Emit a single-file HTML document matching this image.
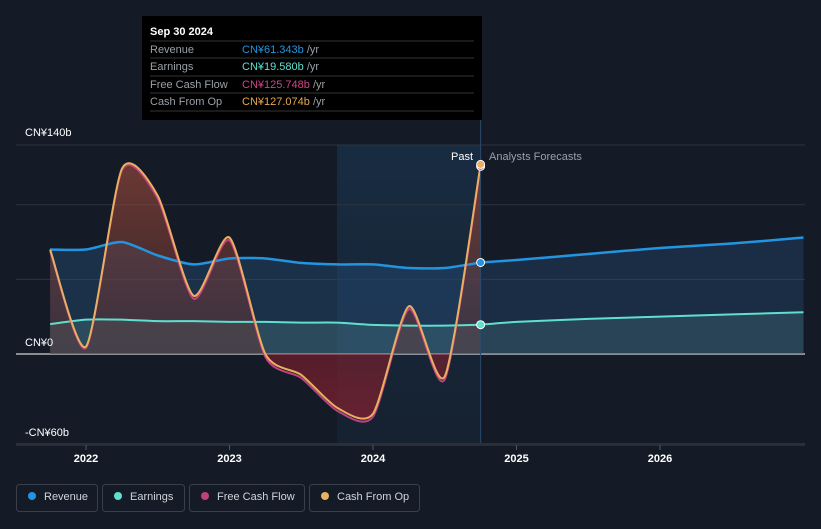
<!DOCTYPE html>
<html><head><meta charset="utf-8"><style>
body{margin:0;background:#151b26;font-family:"Liberation Sans",sans-serif;}
svg text{font-family:"Liberation Sans",sans-serif;}
</style></head><body>
<svg width="821" height="524" xmlns="http://www.w3.org/2000/svg">
<defs>
<linearGradient id="cfg" x1="0" y1="0" x2="0" y2="1"><stop offset="0" stop-color="#9a4a3c" stop-opacity="0.65"/><stop offset="1" stop-color="#5a2a2a" stop-opacity="0.3"/></linearGradient>
<linearGradient id="cfn" x1="0" y1="0" x2="0" y2="1"><stop offset="0" stop-color="#5a1a22" stop-opacity="0.3"/><stop offset="1" stop-color="#8a2030" stop-opacity="0.7"/></linearGradient>
<linearGradient id="band" x1="0" y1="0" x2="0" y2="1"><stop offset="0" stop-color="#1a3550" stop-opacity="0.65"/><stop offset="1" stop-color="#1a3550" stop-opacity="0.25"/></linearGradient>
</defs>
<rect x="0" y="0" width="821" height="524" fill="#151b26"/>
<rect x="337" y="145" width="144" height="298" fill="url(#band)"/>
<g id="grid"></g>
<g id="areas"></g>
<g id="lines"></g>
<g id="axis"></g>
<text x="25" y="136" fill="#fff" font-size="11">CN¥140b</text>
<text x="25" y="346" fill="#fff" font-size="11">CN¥0</text>
<text x="25" y="436" fill="#fff" font-size="11">-CN¥60b</text>
<text x="473" y="160" fill="#fff" font-size="11" text-anchor="end">Past</text>
<text x="489" y="160" fill="#9aa0a8" font-size="11">Analysts Forecasts</text>
<g>
<rect x="142" y="16" width="340" height="104" fill="#000"/>
<text x="150" y="35" fill="#fff" font-size="11" font-weight="bold">Sep 30 2024</text>
<line x1="150" y1="41" x2="474" y2="41" stroke="#333"/>
<text x="150" y="53" fill="#9aa0a8" font-size="11">Revenue</text><text x="242" y="53" font-size="11" fill="#2394e0">CN¥61.343b <tspan fill="#9aa0a8">/yr</tspan></text>
<line x1="150" y1="58" x2="474" y2="58" stroke="#333"/>
<text x="150" y="70" fill="#9aa0a8" font-size="11">Earnings</text><text x="242" y="70" font-size="11" fill="#5fe0cf">CN¥19.580b <tspan fill="#9aa0a8">/yr</tspan></text>
<line x1="150" y1="76" x2="474" y2="76" stroke="#333"/>
<text x="150" y="88" fill="#9aa0a8" font-size="11">Free Cash Flow</text><text x="242" y="88" font-size="11" fill="#d0458a">CN¥125.748b <tspan fill="#9aa0a8">/yr</tspan></text>
<line x1="150" y1="93" x2="474" y2="93" stroke="#333"/>
<text x="150" y="105" fill="#9aa0a8" font-size="11">Cash From Op</text><text x="242" y="105" font-size="11" fill="#e8a94f">CN¥127.074b <tspan fill="#9aa0a8">/yr</tspan></text>
<line x1="150" y1="111" x2="474" y2="111" stroke="#333"/>
</g>
<g>
<g><rect x="16.5" y="484.5" width="81" height="27" rx="3" fill="none" stroke="#3a404a"/><circle cx="32" cy="496" r="4" fill="#2394e0"/><text x="44" y="500" fill="#d0d4da" font-size="11">Revenue</text></g>
<g><rect x="102.5" y="484.5" width="82" height="27" rx="3" fill="none" stroke="#3a404a"/><circle cx="118" cy="496" r="4" fill="#5fe0cf"/><text x="130" y="500" fill="#d0d4da" font-size="11">Earnings</text></g>
<g><rect x="189.5" y="484.5" width="115" height="27" rx="3" fill="none" stroke="#3a404a"/><circle cx="205" cy="496" r="4" fill="#c0407e"/><text x="217" y="500" fill="#d0d4da" font-size="11">Free Cash Flow</text></g>
<g><rect x="309.5" y="484.5" width="110" height="27" rx="3" fill="none" stroke="#3a404a"/><circle cx="325" cy="496" r="4" fill="#e8b060"/><text x="337" y="500" fill="#d0d4da" font-size="11">Cash From Op</text></g>
</g>
</svg>
<script>
const pastDates=[2021.75,2022,2022.25,2022.5,2022.75,2023,2023.25,2023.5,2023.75,2024,2024.25,2024.5,2024.75];
const revenuePast=[70,70,75,66,60,64,64,61,60,60,57.6,57.6,61.3];
const earningsPast=[20,23,23,22,22,21.5,21.5,21,21,19.5,19,19,19.6];
const cfoPast=[70,5,124,106,39,78,0,-14,-36,-40,32,-15,127];
const fcfPast=[69,4,123,104,37,76,-2,-16,-38,-42,30,-17,125.7];
const fcDates=[2024.75,2025,2025.5,2026,2026.5,2027];
const revenueFc=[61.3,63,67,71,74,78];
const earningsFc=[19.6,21.5,23.5,25,26.5,28];
const yTicks=[140,100,50,0,-60];
const xTicks=[2022,2023,2024,2025,2026];
const X=d=>86+(d-2022)*143.5;
const Y=v=>354-v*1.493;
const NS="http://www.w3.org/2000/svg";
function mk(parent,tag,attrs){const e=document.createElementNS(NS,tag);for(const k in attrs)e.setAttribute(k,attrs[k]);document.getElementById(parent).appendChild(e);return e;}
function pts(ds,vs){return ds.map((d,i)=>[X(d),Y(vs[i])]);}
function smooth(p){let s=`M${p[0][0]},${p[0][1]}`;for(let i=0;i<p.length-1;i++){const p0=p[i-1]||p[i],p1=p[i],p2=p[i+1],p3=p[i+2]||p2;const t=0.12;s+=` C${p1[0]+(p2[0]-p0[0])*t},${p1[1]+(p2[1]-p0[1])*t} ${p2[0]-(p3[0]-p1[0])*t},${p2[1]-(p3[1]-p1[1])*t} ${p2[0]},${p2[1]}`;}return s;}
yTicks.forEach(v=>{const l=mk('grid','line',{x1:16,x2:805,y1:Y(v),y2:Y(v),stroke:v===0?'#ffffff':'#2c333e','stroke-width':1});

});
mk('axis','line',{x1:16,x2:805,y1:445,y2:445,stroke:'#3a404a'});
xTicks.forEach(t=>{const l=mk('axis','line',{x1:X(t),x2:X(t),y1:445,y2:450,stroke:'#555'});
const tx=mk('axis','text',{x:X(t),y:462,fill:'#fff','font-size':11,'font-weight':'bold','text-anchor':'middle'});tx.textContent=t;

});
function area(p,fill,name){const d=smooth(p)+` L${p[p.length-1][0]},${Y(0)} L${p[0][0]},${Y(0)} Z`;const a=mk('areas','path',{d:d,fill:fill});

}
const rp=pts(pastDates,revenuePast),rf=pts(fcDates,revenueFc),ep=pts(pastDates,earningsPast),ef=pts(fcDates,earningsFc);
area(rp,'rgba(40,90,140,0.35)','revenue-area');
area(rf,'rgba(40,90,140,0.3)','revenue-forecast-area');
area(ep,'rgba(90,150,150,0.25)','earnings-area');
area(ef,'rgba(90,150,150,0.22)','earnings-forecast-area');
const cp=pts(pastDates,cfoPast);
mk('areas','clipPath',{id:'cpos'});mk('cpos','rect',{x:0,y:0,width:821,height:Y(0)});
mk('areas','clipPath',{id:'cneg'});mk('cneg','rect',{x:0,y:Y(0),width:821,height:200});
const cd=smooth(cp)+` L${cp[cp.length-1][0]},${Y(0)} L${cp[0][0]},${Y(0)} Z`;
const a1=mk('areas','path',{d:cd,fill:'url(#cfg)','clip-path':'url(#cpos)'});


const a2=mk('areas','path',{d:cd,fill:'url(#cfn)','clip-path':'url(#cneg)'});


function line(p,c,w,name){const l=mk('lines','path',{d:smooth(p),fill:'none',stroke:c,'stroke-width':w});

}
line(rp,'#2394e0',2.5,'revenue-line');line(rf,'#2394e0',2.5,'revenue-forecast-line');
line(ep,'#5fe0cf',2,'earnings-line');line(ef,'#5fe0cf',2,'earnings-forecast-line');
line(pts(pastDates,fcfPast),'#c0407e',2,'fcf-line');
line(cp,'#e8b060',2,'cash-from-op-line');
mk('lines','line',{x1:X(2024.75),x2:X(2024.75),y1:16,y2:443,stroke:'#2a4a6a'});
[[revenuePast,'#2394e0','revenue-point'],[earningsPast,'#5fe0cf','earnings-point'],[fcfPast,'#c0407e','fcf-point'],[cfoPast,'#e8b060','cfo-point']].forEach(([a,c,n])=>{const e=mk('lines','circle',{cx:X(2024.75),cy:Y(a[a.length-1]),r:4,fill:c,stroke:'#fff','stroke-width':1});

});
</script>
</body></html>
